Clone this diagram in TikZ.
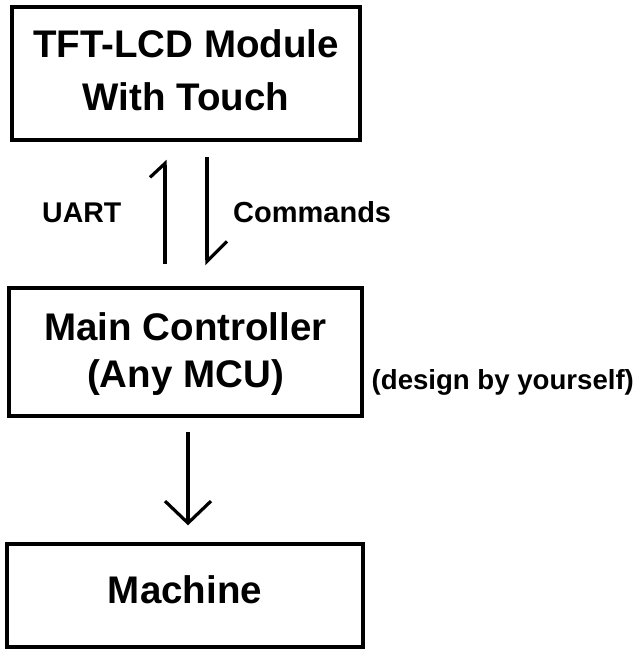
\documentclass[tikz,border=0pt]{standalone}
\usepackage{fontspec}
\setmainfont{Liberation Sans}
\usetikzlibrary{arrows.meta}
\begin{document}
\begin{tikzpicture}[x=1pt,y=-1pt,
  box/.style={draw, line width=3.4pt, inner sep=0pt, align=center},
  bigfont/.style={font=\bfseries\fontsize{38.5}{53}\selectfont},
  midfont/.style={font=\bfseries\fontsize{38.5}{47}\selectfont},
  lbl/.style={inner sep=0pt, anchor=base west, font=\bfseries\fontsize{29}{34}\selectfont},
  conn/.style={line width=3.2pt},
  harpup/.style={conn, -{Straight Barb[left, length=14pt, width=30pt]}},
  harpdown/.style={conn, -{Straight Barb[left, length=20pt, width=40pt]}},
  openarrow/.style={conn, -{Straight Barb[length=22pt, width=46pt]}}
]
\useasboundingbox (0,0) rectangle (640,656);
\fill[white] (0,0) rectangle (640,656);

\node[box, bigfont, minimum width=348pt, minimum height=133pt, text depth=7pt] (tft) at (186,73.5) {TFT-LCD Module\\With Touch};
\node[box, midfont, minimum width=353pt, minimum height=128pt, text depth=4pt] (mcu) at (185.5,352) {Main Controller\\(Any MCU)};
\node[box, bigfont, minimum width=356pt, minimum height=103pt, text depth=11.5pt] (mach) at (185,595.5) {Machine};

\coordinate (ux) at (165,0);
\coordinate (dx) at (207,0);
\coordinate (mx) at (188,0);

\draw[harpup, shorten <=22pt, shorten >=18pt] (mcu.north -| ux) -- (tft.south -| ux);
\draw[harpdown, shorten <=15pt, shorten >=21pt] (tft.south -| dx) -- (mcu.north -| dx);
\draw[openarrow, shorten <=14pt, shorten >=17pt] (mcu.south -| mx) -- (mach.north -| mx);

\node[lbl, font=\bfseries\fontsize{28.5}{34}\selectfont] (uart) at (42,222) {UART};
\node[lbl] (cmd) at (233,222) {Commands};
\node[lbl, font=\bfseries\fontsize{27.6}{34}\selectfont] (dsgn) at (371.5,389) {(design by yourself)};
\end{tikzpicture}
\end{document}
